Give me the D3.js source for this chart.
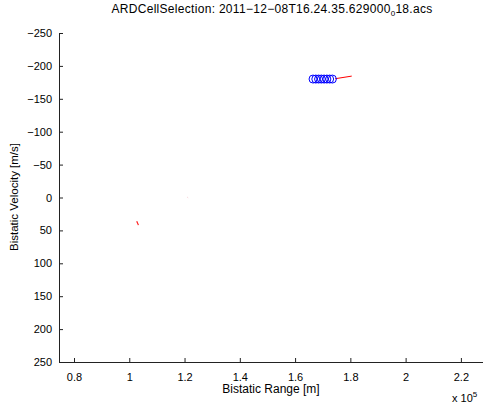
<!DOCTYPE html>
<html><head><meta charset="utf-8">
<script src="https://cdn.jsdelivr.net/npm/d3@7"></script>
<style>body{margin:0;background:#fff}svg{display:block}text{font-family:"Liberation Sans",Arial,Helvetica,sans-serif;}</style>
</head><body>
<svg id="c" width="483" height="407"></svg>
<script>
const xTicks = [0.8, 1.0, 1.2, 1.4, 1.6, 1.8, 2.0, 2.2];
const xTickLabels = ["0.8", "1", "1.2", "1.4", "1.6", "1.8", "2", "2.2"];
const yTicks = [-250, -200, -150, -100, -50, 0, 50, 100, 150, 200, 250];
const circleRange = [1.665, 1.675, 1.685, 1.695, 1.705, 1.715, 1.725, 1.735];
const circleVel = [-180, -180, -180, -180, -180, -180, -180, -180];
const trackA = [[1.745, -180.5], [1.805, -184.5]];
const trackB = [[1.027, 36], [1.033, 42]];
const trackC = [[1.21, -0.5], [1.213, 0.5]];

const svg = d3.select("#c");
const x = d3.scaleLinear().domain([0.7457, 2.28]).range([59, 483]);
const y = d3.scaleLinear().domain([-250, 250]).range([33, 362]);
const fmtY = d => (d < 0 ? "\u2212" + Math.abs(d) : String(d));

// axes
const xAxis = d3.axisBottom(x).tickValues(xTicks).tickSizeInner(-4).tickSizeOuter(0)
  .tickFormat((d, i) => xTickLabels[i]).tickPadding(11);
const gx = svg.append("g").attr("transform", "translate(0,362)").call(xAxis);
const yAxis = d3.axisLeft(y).tickValues(yTicks).tickSizeInner(-4).tickSizeOuter(0)
  .tickFormat(fmtY).tickPadding(7);
const gy = svg.append("g").attr("transform", "translate(59,0)").call(yAxis);
[gx, gy].forEach(g => {
  g.select(".domain").attr("stroke", "#222").attr("stroke-width", 1);
  g.selectAll(".tick line").attr("stroke", "#222");
  g.selectAll(".tick text").attr("fill", "#000").attr("font-size", 11)
    .style("font-family", "'Liberation Sans', Arial, sans-serif");
});

// data
const line = d3.line().x(d => x(d[0])).y(d => y(d[1]));
svg.append("path").datum(trackB).attr("d", line).attr("stroke", "#ff1a1a").attr("stroke-width", 1.2).attr("fill", "none");
svg.append("path").datum(trackC).attr("d", line).attr("stroke", "#f6c7d0").attr("stroke-width", 1).attr("fill", "none");
svg.append("path").datum(trackA).attr("d", line).attr("stroke", "#ff0000").attr("stroke-width", 1).attr("fill", "none");
svg.append("g").selectAll("circle").data(circleRange).join("circle")
  .attr("cx", d => x(d)).attr("cy", (d, i) => y(circleVel[i])).attr("r", 4)
  .attr("fill", "none").attr("stroke", "#0000ff").attr("stroke-width", 1);

// text
const t = svg.append("text").attr("x", 272).attr("y", 13).attr("text-anchor", "middle")
  .attr("font-size", 12).attr("letter-spacing", 0.3);
t.append("tspan").text("ARDCellSelection: 2011\u221212\u221208T16.24.35.629000");
t.append("tspan").attr("font-size", 8).attr("dy", 3).text("0");
t.append("tspan").attr("dy", -3).text("18.acs");

svg.append("text").attr("x", 271).attr("y", 393).attr("text-anchor", "middle")
  .attr("font-size", 12).text("Bistatic Range [m]");
const e = svg.append("text").attr("x", 452).attr("y", 402).attr("font-size", 11);
e.append("tspan").text("x 10");
e.append("tspan").attr("font-size", 8).attr("dy", -5).text("5");

svg.append("text").attr("transform", "translate(18,197) rotate(-90)").attr("text-anchor", "middle")
  .attr("font-size", 11.5).text("Bistatic Velocity [m/s]");
</script>
</body></html>
